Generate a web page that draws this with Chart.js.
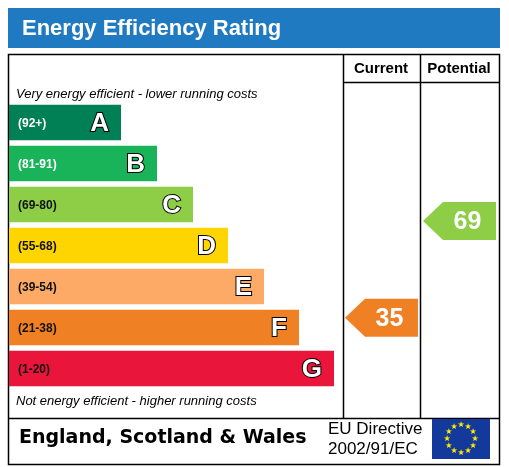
<!DOCTYPE html>
<html><head><meta charset="utf-8">
<script src="https://cdn.jsdelivr.net/npm/chart.js@4"></script>
<style>html,body{margin:0;padding:0;background:#fff}#wrap{width:509px;height:467px;position:relative}</style>
</head><body><div id="wrap"><canvas id="epc"></canvas></div>
<script>
const bands = ['A', 'B', 'C', 'D', 'E', 'F', 'G'];
const ranges = ['(92+)', '(81-91)', '(69-80)', '(55-68)', '(39-54)', '(21-38)', '(1-20)'];
const bandLengths = [112, 148, 184, 219, 255, 290, 325];
const bandColors = ['#008054', '#19b459', '#8dce46', '#ffd500', '#fcaa65', '#ef8023', '#e9153b'];
const rangeMins = [92, 81, 69, 55, 39, 21, 1];
const currentRating = 35;
const potentialRating = 69;

function bandIndex(v) {
  for (let i = 0; i < rangeMins.length; i++) if (v >= rangeMins[i]) return i;
  return rangeMins.length - 1;
}

const frame = {
  id: 'frame',
  beforeDraw(chart) {
    const c = chart.ctx;
    c.save();
    c.fillStyle = '#fff';
    c.fillRect(0, 0, 509, 467);
    c.fillStyle = '#1f7ac2';
    c.fillRect(8, 8, 492, 40);
    c.fillStyle = '#fff';
    c.font = 'bold 22px "Liberation Sans", Arial';
    c.textBaseline = 'middle';
    c.fillText('Energy Efficiency Rating', 22, 29);
    c.strokeStyle = '#000';
    c.lineWidth = 1.5;
    c.strokeRect(8.5, 54.5, 491, 410);
    c.beginPath();
    c.moveTo(343.5, 54.5); c.lineTo(343.5, 418);
    c.moveTo(420.5, 54.5); c.lineTo(420.5, 418);
    c.moveTo(343.5, 82.5); c.lineTo(500, 82.5);
    c.moveTo(8.5, 418.5); c.lineTo(500, 418.5);
    c.stroke();
    c.fillStyle = '#000';
    c.font = 'bold 15px "Liberation Sans", Arial';
    c.textAlign = 'center';
    c.fillText('Current', 381, 69);
    c.fillText('Potential', 459, 69);
    c.textAlign = 'left';
    c.font = 'italic 13px "Liberation Sans", Arial';
    c.fillText('Very energy efficient - lower running costs', 16, 94);
    c.fillText('Not energy efficient - higher running costs', 16, 401);
    c.font = 'bold 19px "DejaVu Sans", Verdana';
    c.fillText('England, Scotland & Wales', 19, 438);
    c.font = '17px "Liberation Sans", Arial';
    c.fillText('EU Directive', 328, 429);
    c.fillText('2002/91/EC', 328, 449);
    // EU flag
    c.fillStyle = '#13399a';
    c.fillRect(432, 419, 58, 40);
    c.fillStyle = '#ffed00';
    c.font = '8px "DejaVu Sans"';
    c.textAlign = 'center';
    for (let k = 0; k < 12; k++) {
      const a = k * Math.PI / 6;
      c.fillText('\u2605', 461 + 14 * Math.sin(a), 439 - 14 * Math.cos(a));
    }
    c.restore();
  },
  afterDatasetsDraw(chart) {
    const c = chart.ctx;
    const meta = chart.getDatasetMeta(0);
    const rs = chart.scales.rating;
    c.save();
    c.textBaseline = 'middle';
    meta.data.forEach((bar, i) => {
      const y = bar.y;
      c.textAlign = 'left';
      c.font = 'bold 12px "Liberation Sans", Arial';
      c.fillStyle = i < 2 ? '#fff' : '#111';
      c.fillText(ranges[i], 18, y + 1);
      c.textAlign = 'right';
      c.font = 'bold 26px "Liberation Sans", Arial';
      c.lineWidth = 2;
      c.strokeStyle = '#000';
      c.strokeText(bands[i], bar.x - 12, y + 1);
      c.fillStyle = '#fff';
      c.fillText(bands[i], bar.x - 12, y + 1);
    });
    const arrow = (v, x0, x1) => {
      const i = bandIndex(v);
      const y = rs.getPixelForValue(v);
      const h = 19;
      c.fillStyle = bandColors[i];
      c.beginPath();
      c.moveTo(x0, y);
      c.lineTo(x0 + 20, y - h);
      c.lineTo(x1, y - h);
      c.lineTo(x1, y + h);
      c.lineTo(x0 + 20, y + h);
      c.closePath();
      c.fill();
      c.fillStyle = '#fff';
      c.textAlign = 'center';
      c.font = 'bold 25px "Liberation Sans", Arial';
      c.fillText(String(v), (x0 + 20 + x1) / 2 - 2, y + 1);
    };
    arrow(currentRating, 345, 418);
    arrow(potentialRating, 423, 496);
    c.restore();
  }
};

new Chart(document.getElementById('epc'), {
  type: 'bar',
  data: {
    labels: bands,
    datasets: [{
      data: bandLengths,
      backgroundColor: bandColors,
      barPercentage: 0.86,
      categoryPercentage: 1
    }]
  },
  options: {
    indexAxis: 'y',
    responsive: true,
    maintainAspectRatio: false,
    animation: false,
    layout: { padding: { left: 9, right: 175, top: 102, bottom: 78 } },
    scales: {
      x: { display: false, min: 0, max: 325 },
      y: { display: false },
      rating: { type: 'linear', axis: 'y', display: false, min: 14.5, max: 106.3 }
    },
    plugins: { legend: { display: false }, tooltip: { enabled: false } }
  },
  plugins: [frame]
});
</script>
</body></html>
